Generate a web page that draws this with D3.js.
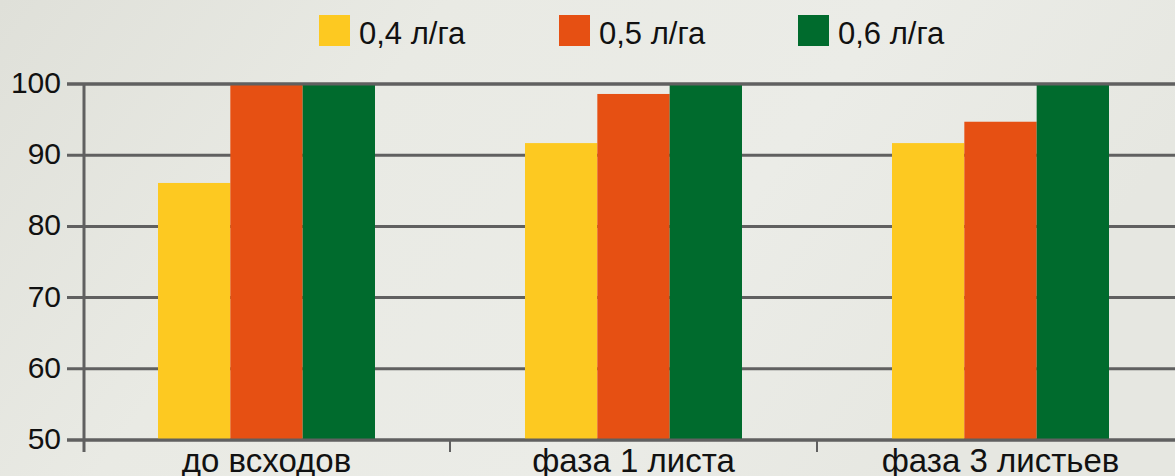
<!DOCTYPE html>
<html>
 <head>
  <meta charset="utf-8">
  <title>Bar chart</title>
  <script src="https://cdnjs.cloudflare.com/ajax/libs/d3/7.8.5/d3.min.js"></script>
  <style>
    body { margin: 0; }
    svg { display: block; font-family: "Liberation Sans", Arial, Helvetica, sans-serif; }
  </style>
 </head>
 <body>
  <script>
    // data
    var categories = ["до всходов", "фаза 1 листа", "фаза 3 листьев"];
    var seriesNames = ["0,4 л/га", "0,5 л/га", "0,6 л/га"];
    var dose04 = [86.1, 91.7, 91.7];
    var dose05 = [100, 98.6, 94.7];
    var dose06 = [100, 100, 100];
    var yTicks = [50, 60, 70, 80, 90, 100];
    var colors = ["#fdc921", "#e65013", "#006b2d"];

    var series = [dose04, dose05, dose06];
    var width = 1175, height = 476;

    var svg = d3.select("body").append("svg")
                .attr("width", width)
                .attr("height", height);

    // background (faded field photo stand-in)
    var defs = svg.append("defs");
    var grad = defs.append("linearGradient").attr("id", "bg")
                   .attr("x1", 0).attr("y1", 0).attr("x2", 1).attr("y2", 0.3);
    grad.append("stop").attr("offset", "0%").attr("stop-color", "#dfe0d9");
    grad.append("stop").attr("offset", "35%").attr("stop-color", "#e9eae4");
    grad.append("stop").attr("offset", "70%").attr("stop-color", "#ebece7");
    grad.append("stop").attr("offset", "100%").attr("stop-color", "#e6e7e1");
    svg.append("rect").attr("width", width).attr("height", height).attr("fill", "url(#bg)");

    var plotLeft = 83, plotBottom = 440, plotTop = 84;
    var pIn = 150 / 367;

    var x0 = d3.scaleBand().domain(categories)
               .range([plotLeft, plotLeft + 3 * 367])
               .paddingInner(pIn).paddingOuter(pIn / 2);
    var x1 = d3.scaleBand().domain(d3.range(series.length))
               .range([0, x0.bandwidth()]);
    var y = d3.scaleLinear().domain([50, 100]).range([plotBottom, plotTop]);

    // grid lines
    svg.append("g").selectAll("line").data(yTicks).join("line")
       .attr("x1", 67).attr("x2", width)
       .attr("y1", function(d) { return y(d); })
       .attr("y2", function(d) { return y(d); })
       .attr("stroke", "#606060").attr("stroke-width", 3);

    // bars
    svg.append("g").selectAll("g").data(categories).join("g")
       .attr("transform", function(d) { return "translate(" + x0(d) + ",0)"; })
       .selectAll("rect")
       .data(function(d, i) { return series.map(function(s, k) { return { k: k, v: s[i] }; }); })
       .join("rect")
       .attr("x", function(d) { return x1(d.k); })
       .attr("width", x1.bandwidth())
       .attr("y", function(d) { return y(d.v); })
       .attr("height", function(d) { return plotBottom - y(d.v); })
       .attr("fill", function(d) { return colors[d.k]; });

    // top grid line sits over the bars
    svg.append("line")
       .attr("x1", 67).attr("x2", width)
       .attr("y1", y(100)).attr("y2", y(100))
       .attr("stroke", "#606060").attr("stroke-width", 3);

    // x axis line
    svg.append("line")
       .attr("x1", 67).attr("x2", width)
       .attr("y1", plotBottom).attr("y2", plotBottom)
       .attr("stroke", "#606060").attr("stroke-width", 3);

    // y axis line
    svg.append("line")
       .attr("x1", plotLeft + 1).attr("x2", plotLeft + 1)
       .attr("y1", plotTop).attr("y2", plotBottom + 12)
       .attr("stroke", "#606060").attr("stroke-width", 3);

    // category separators
    var step = x0.step();
    svg.append("g").selectAll("line").data(categories.slice(1)).join("line")
       .attr("x1", function(d) { return x0(d) - step * pIn / 2; })
       .attr("x2", function(d) { return x0(d) - step * pIn / 2; })
       .attr("y1", plotBottom).attr("y2", plotBottom + 12)
       .attr("stroke", "#606060").attr("stroke-width", 2);

    // y tick labels
    svg.append("g").selectAll("text").data(yTicks).join("text")
       .attr("x", 61)
       .attr("y", function(d) { return y(d) + 9; })
       .attr("text-anchor", "end")
       .attr("font-size", 30)
       .attr("fill", "#111")
       .text(function(d) { return d; });

    // category labels
    svg.append("g").selectAll("text").data(categories).join("text")
       .attr("x", function(d) { return x0(d) + x0.bandwidth() / 2; })
       .attr("y", 472)
       .attr("text-anchor", "middle")
       .attr("font-size", 33)
       .attr("fill", "#111")
       .text(function(d) { return d; });

    // legend
    var legendX = [319, 559, 798];
    var lg = svg.append("g").selectAll("g").data(seriesNames).join("g")
       .attr("transform", function(d, i) { return "translate(" + legendX[i] + ",15)"; });
    lg.append("rect").attr("width", 31).attr("height", 31)
      .attr("fill", function(d, i) { return colors[i]; });
    lg.append("text").attr("x", 40).attr("y", 29)
      .attr("font-size", 31).attr("fill", "#111")
      .text(function(d) { return d; });
  </script>
 </body>
</html>
